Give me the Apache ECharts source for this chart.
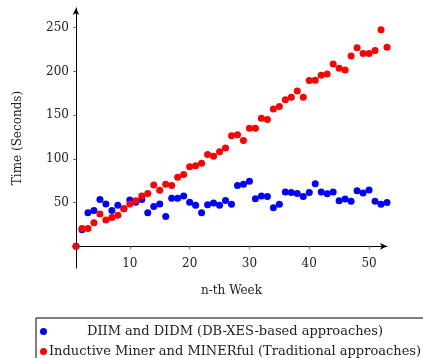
<!DOCTYPE html>
<html>
<head>
<meta charset="utf-8">
<script src="https://cdn.jsdelivr.net/npm/echarts@6/dist/echarts.min.js"></script>
<style>
  html, body { margin: 0; padding: 0; background: #fff; }
  #chart { width: 423px; height: 358px; }
</style>
</head>
<body>
<div id="chart"></div>
<script>
// weeks 1..53
const weeks = [];
for (let w = 1; w <= 53; w++) weeks.push(w);

// DIIM and DIDM (DB-XES-based approaches)
const dbxesTimes = [
  0, 19, 38.5, 41, 53.5, 48.5, 41, 47, 43, 53,
  50.5, 53.5, 38.5, 45.5, 48.5, 34, 55, 55, 57.5, 50.5,
  47, 38.5, 47.5, 49.5, 47, 52.5, 48, 69.5, 71, 74.5,
  54.5, 57.5, 57, 44, 48, 62, 61.5, 60.5, 57, 61.5,
  71.5, 62, 60, 62, 52, 54, 51.5, 63.5, 61, 64.5,
  51.5, 48, 50
];

// Inductive Miner and MINERful (Traditional approaches)
const traditionalTimes = [
  0, 20.5, 20.5, 27, 37, 30, 33, 35.5, 43, 48.5,
  52, 57.5, 60.5, 70, 64, 71, 69.5, 79, 82, 91,
  92, 95, 105, 103, 108, 112.5, 126.5, 127.5, 121, 135,
  135, 146.5, 145, 157, 160, 167.5, 170.5, 177.5, 170.5, 189.5,
  190, 195.5, 197, 208.5, 203.5, 201.5, 217.5, 227, 220.5, 220.5,
  224, 247.5, 227.5
];

const xTicks = [10, 20, 30, 40, 50];
const yTicks = [50, 100, 150, 200, 250];

const seriesNames = [
  'DIIM and DIDM (DB-XES-based approaches)',
  'Inductive Miner and MINERful (Traditional approaches)'
];

const font = 'DejaVu Serif';
const chart = echarts.init(document.getElementById('chart'));

const toPairs = (vals) => vals.map((v, i) => [weeks[i], v]);

chart.setOption({
  animation: false,
  backgroundColor: '#fff',
  textStyle: { fontFamily: font },
  grid: { left: 76, right: 36, top: 8, bottom: 90 },
  xAxis: {
    type: 'value',
    min: 1,
    max: 53,
    name: 'n-th Week',
    nameLocation: 'middle',
    nameGap: 17,
    nameTextStyle: { fontFamily: font, fontSize: 12, color: '#222' },
    axisLine: {
      onZero: true,
      lineStyle: { color: '#000', width: 1 },
      symbol: ['none', 'arrow'],
      symbolSize: [5, 7]
    },
    axisTick: { customValues: xTicks, length: 3, lineStyle: { color: '#777' } },
    // labels follow the grid bottom, not the zero line, so pull them up
    axisLabel: { customValues: xTicks, margin: -10, fontFamily: font, fontSize: 12, color: '#222' },
    splitLine: { show: false }
  },
  yAxis: {
    type: 'value',
    min: -24.8,
    max: 272.5,
    name: 'Time (Seconds)',
    nameLocation: 'middle',
    nameGap: 52,
    nameTextStyle: { fontFamily: font, fontSize: 12, color: '#222' },
    axisLine: {
      show: true,
      onZero: false,
      lineStyle: { color: '#000', width: 1 },
      symbol: ['none', 'arrow'],
      symbolSize: [5, 7]
    },
    axisTick: { show: true, customValues: yTicks, length: 3, lineStyle: { color: '#777' } },
    axisLabel: { customValues: yTicks, margin: 7, fontFamily: font, fontSize: 12, color: '#222' },
    splitLine: { show: false }
  },
  legend: {
    orient: 'vertical',
    left: 36,
    top: 318,
    height: 60,
    padding: [7, 14, 4, 4],
    itemGap: 7,
    itemWidth: 7,
    itemHeight: 7,
    icon: 'circle',
    borderColor: '#000',
    borderWidth: 1,
    data: seriesNames,
    formatter: name => '{t|' + name + '}',
    textStyle: {
      rich: {
        t: { width: 366, align: 'center', fontFamily: font, fontSize: 13, color: '#222' }
      }
    }
  },
  series: [
    {
      name: seriesNames[0],
      type: 'scatter',
      symbolSize: 7,
      itemStyle: { color: '#0000ff', opacity: 1 },
      data: toPairs(dbxesTimes)
    },
    {
      name: seriesNames[1],
      type: 'scatter',
      symbolSize: 7,
      itemStyle: { color: '#ff0000', opacity: 1 },
      data: toPairs(traditionalTimes)
    }
  ]
});
</script>
</body>
</html>
